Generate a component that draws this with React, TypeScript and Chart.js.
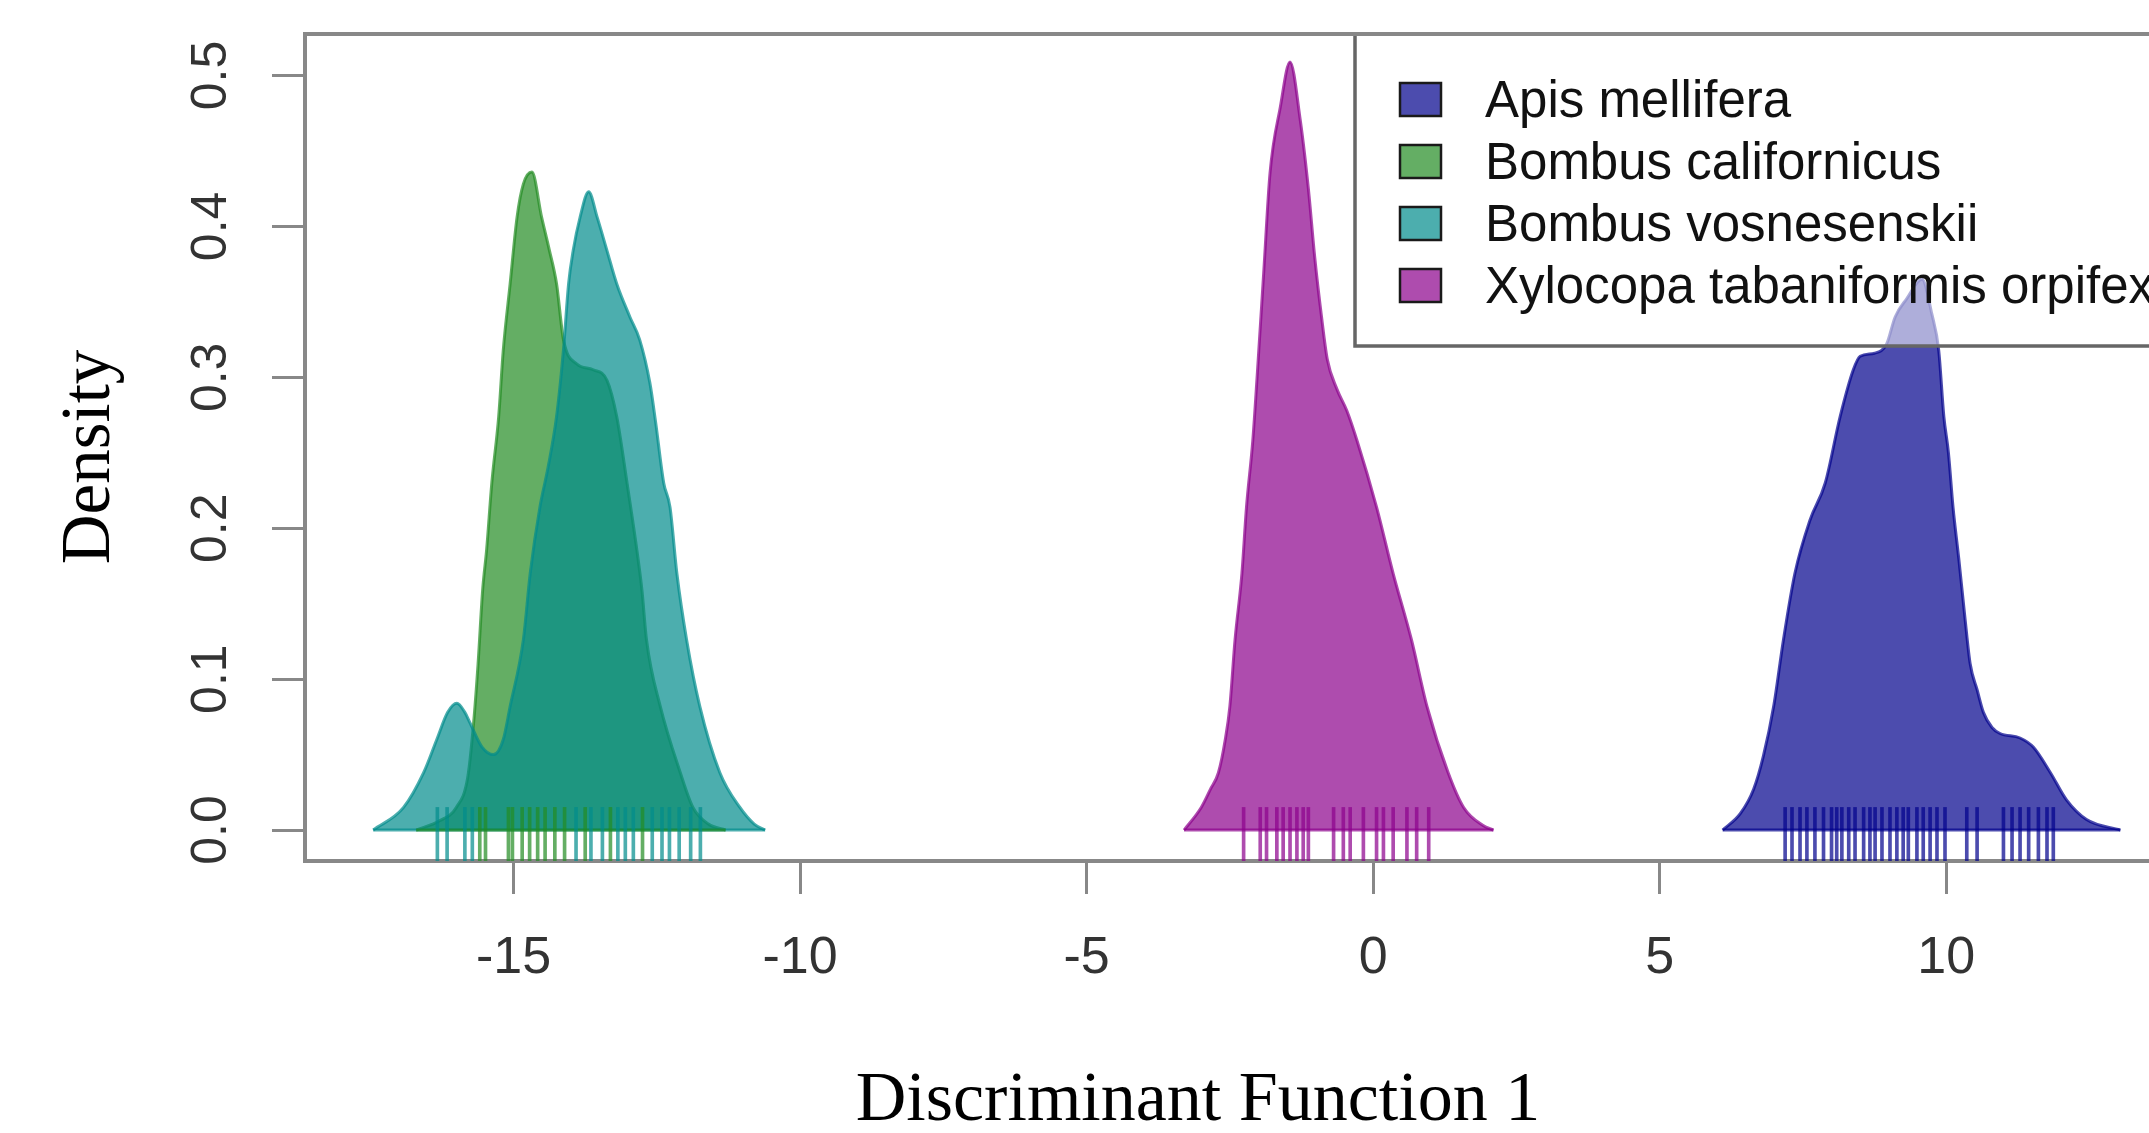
import React, { useEffect, useRef } from 'react';
import { Chart, registerables } from 'chart.js';

Chart.register(...registerables);

const W = 2149;
const H = 1133;

const SPECIES = ['Apis mellifera', 'Bombus californicus', 'Bombus vosnesenskii', 'Xylocopa tabaniformis orpifex'];
const COLORS = ['rgba(0,0,139,0.7)', 'rgba(34,139,34,0.7)', 'rgba(0,139,139,0.7)', 'rgba(139,0,139,0.7)'];

const X_TITLE = 'Discriminant Function 1';
const Y_TITLE = 'Density';
const X_TICKS = [-15, -10, -5, 0, 5, 10];
const Y_TICKS = [0, 0.1, 0.2, 0.3, 0.4, 0.5];

// Density curves
const APIS_X = [6.10, 6.41, 6.64, 6.81, 6.99, 7.16, 7.36, 7.62, 7.89, 8.15, 8.38, 8.50, 8.75, 8.96, 9.11, 9.31, 9.58, 9.75, 9.87, 9.96, 10.04, 10.12, 10.22, 10.33, 10.42, 10.54, 10.65, 10.80, 10.94, 11.29, 11.52, 11.82, 12.10, 12.45, 13.04];
const APIS_Y = [0.000, 0.011, 0.027, 0.049, 0.082, 0.126, 0.170, 0.205, 0.230, 0.274, 0.305, 0.314, 0.316, 0.322, 0.340, 0.352, 0.365, 0.342, 0.318, 0.274, 0.250, 0.214, 0.180, 0.140, 0.110, 0.093, 0.078, 0.068, 0.064, 0.061, 0.055, 0.038, 0.020, 0.007, 0.000];

const CALIF_X = [-16.70, -16.30, -16.00, -15.80, -15.70, -15.62, -15.54, -15.47, -15.38, -15.26, -15.18, -15.06, -14.94, -14.83, -14.68, -14.51, -14.38, -14.25, -14.13, -13.90, -13.61, -13.37, -13.20, -13.02, -12.85, -12.76, -12.68, -12.44, -12.09, -11.87, -11.60, -11.30];
const CALIF_Y = [0.000, 0.006, 0.015, 0.035, 0.070, 0.110, 0.159, 0.186, 0.230, 0.274, 0.318, 0.362, 0.406, 0.428, 0.436, 0.406, 0.385, 0.362, 0.325, 0.309, 0.305, 0.298, 0.274, 0.230, 0.186, 0.159, 0.126, 0.082, 0.038, 0.015, 0.004, 0.000];

const VOSN_X = [-17.45, -16.92, -16.57, -16.34, -16.15, -15.99, -15.85, -15.76, -15.55, -15.35, -15.18, -15.06, -14.83, -14.71, -14.54, -14.40, -14.25, -14.13, -14.04, -13.96, -13.84, -13.69, -13.54, -13.37, -13.20, -12.97, -12.80, -12.62, -12.52, -12.38, -12.27, -12.15, -11.98, -11.75, -11.40, -11.05, -10.80, -10.61];
const VOSN_Y = [0.000, 0.015, 0.038, 0.060, 0.078, 0.084, 0.078, 0.071, 0.055, 0.050, 0.060, 0.082, 0.126, 0.170, 0.214, 0.240, 0.274, 0.318, 0.362, 0.384, 0.406, 0.423, 0.406, 0.384, 0.362, 0.340, 0.325, 0.296, 0.270, 0.230, 0.214, 0.170, 0.126, 0.082, 0.038, 0.015, 0.004, 0.000];

const XYLO_X = [-3.30, -3.00, -2.84, -2.70, -2.58, -2.50, -2.41, -2.29, -2.21, -2.10, -2.02, -1.91, -1.80, -1.62, -1.45, -1.27, -1.13, -1.02, -0.90, -0.80, -0.63, -0.46, -0.28, 0.06, 0.35, 0.67, 0.94, 1.31, 1.58, 1.92, 2.10];
const XYLO_Y = [0.000, 0.015, 0.027, 0.038, 0.060, 0.082, 0.126, 0.170, 0.214, 0.258, 0.303, 0.369, 0.435, 0.479, 0.509, 0.470, 0.425, 0.380, 0.340, 0.312, 0.292, 0.278, 0.258, 0.214, 0.170, 0.126, 0.082, 0.038, 0.015, 0.003, 0.000];

// Rug positions
const RUG_APIS = [7.19, 7.31, 7.45, 7.57, 7.71, 7.86, 8.00, 8.09, 8.18, 8.30, 8.41, 8.56, 8.67, 8.76, 8.88, 9.02, 9.14, 9.25, 9.34, 9.49, 9.60, 9.72, 9.84, 9.98, 10.36, 10.54, 11.00, 11.15, 11.29, 11.44, 11.61, 11.76, 11.87];
const RUG_CALIF = [-15.59, -15.49, -15.09, -15.02, -14.85, -14.72, -14.58, -14.45, -14.28, -14.11, -13.75, -13.31, -12.75];
const RUG_VOSN = [-16.33, -16.16, -15.85, -15.72, -13.91, -13.65, -13.45, -13.18, -13.05, -12.91, -12.58, -12.41, -12.28, -12.11, -11.91, -11.74];
const RUG_XYLO = [-2.26, -1.97, -1.86, -1.68, -1.57, -1.45, -1.33, -1.22, -1.13, -0.69, -0.52, -0.40, -0.17, 0.06, 0.18, 0.35, 0.59, 0.76, 0.97];

const X_MIN = -18.64;
const X_MAX = 13.54;
const Y_MIN = -0.0205;
const Y_MAX = 0.5275;
const RUG_TOP = 0.015;

const toPoints = (xs: number[], ys: number[]) => xs.map((x, i) => ({ x, y: ys[i] }));

const framePlugin = {
  id: 'frameTop',
  afterDraw(chart: any) {
    const { ctx, chartArea } = chart;
    ctx.save();
    ctx.strokeStyle = '#888888';
    ctx.lineWidth = 4;
    ctx.beginPath();
    ctx.moveTo(chartArea.left - 2, chartArea.top);
    ctx.lineTo(chartArea.right + 2, chartArea.top);
    ctx.stroke();
    ctx.restore();
  },
};

const legendPlugin = {
  id: 'rLegend',
  afterDatasetsDraw(chart: any) {
    const { ctx, chartArea } = chart;
    const L = 1355;
    const T = chartArea.top;
    const B = 346;
    const R = W + 20;
    ctx.save();
    ctx.fillStyle = 'rgba(255,255,255,0.55)';
    ctx.fillRect(L, T, R - L, B - T);
    ctx.strokeStyle = '#666666';
    ctx.lineWidth = 3.5;
    ctx.strokeRect(L, T, R - L, B - T);
    SPECIES.forEach((name, i) => {
      const cy = 99.5 + i * 62;
      ctx.fillStyle = COLORS[i];
      ctx.fillRect(1400, cy - 16.5, 41, 33);
      ctx.strokeStyle = '#1a1a1a';
      ctx.lineWidth = 2.5;
      ctx.strokeRect(1400, cy - 16.5, 41, 33);
      ctx.fillStyle = '#111111';
      ctx.font = '51px "Liberation Sans"';
      ctx.textAlign = 'left';
      ctx.textBaseline = 'middle';
      ctx.fillText(name, 1485, cy + 3);
    });
    ctx.restore();
  },
};

const titlesPlugin = {
  id: 'axisTitles',
  afterDraw(chart: any) {
    const { ctx } = chart;
    ctx.save();
    ctx.fillStyle = '#000000';
    ctx.textAlign = 'center';
    ctx.textBaseline = 'alphabetic';
    ctx.font = '70px "Liberation Serif"';
    ctx.fillText(X_TITLE, 1198, 1120);
    ctx.translate(109, 457);
    ctx.rotate(-Math.PI / 2);
    ctx.font = '69px "Liberation Serif"';
    ctx.fillText(Y_TITLE, 0, 0);
    ctx.restore();
  },
};

export default function App() {
  const ref = useRef<HTMLCanvasElement>(null);

  useEffect(() => {
    const canvas = ref.current;
    if (!canvas) return;
    const series = [
      { xs: APIS_X, ys: APIS_Y, rug: RUG_APIS, order: 5 },
      { xs: CALIF_X, ys: CALIF_Y, rug: RUG_CALIF, order: 6 },
      { xs: VOSN_X, ys: VOSN_Y, rug: RUG_VOSN, order: 5 },
      { xs: XYLO_X, ys: XYLO_Y, rug: RUG_XYLO, order: 5 },
    ];
    const datasets: any[] = [];
    series.forEach((s, i) => {
      datasets.push({
        type: 'line',
        label: SPECIES[i],
        data: toPoints(s.xs, s.ys),
        fill: 'origin',
        backgroundColor: COLORS[i],
        borderColor: COLORS[i],
        borderWidth: 3,
        pointRadius: 0,
        cubicInterpolationMode: 'monotone',
        order: s.order,
      });
      datasets.push({
        type: 'line',
        label: SPECIES[i] + ' baseline',
        data: [{ x: s.xs[0], y: 0 }, { x: s.xs[s.xs.length - 1], y: 0 }],
        fill: false,
        borderColor: COLORS[i],
        borderWidth: 3,
        pointRadius: 0,
        order: 3,
      });
      datasets.push({
        type: 'bar',
        label: SPECIES[i] + ' rug',
        data: s.rug.map((x) => ({ x, y: [Y_MIN, RUG_TOP] })),
        backgroundColor: COLORS[i],
        borderWidth: 0,
        barThickness: 3,
        grouped: false,
        order: 1,
      });
    });

    const tickFont = { family: 'Liberation Sans', size: 52 };
    const chart = new Chart(canvas, {
      type: 'line',
      data: { datasets },
      options: {
        responsive: false,
        animation: false,
        events: [],
        layout: { padding: { top: 34, left: 0, right: 0, bottom: 0 } },
        plugins: { legend: { display: false }, tooltip: { enabled: false } },
        scales: {
          x: {
            type: 'linear',
            min: X_MIN,
            max: X_MAX,
            offset: false,
            afterBuildTicks: (s: any) => { s.ticks = X_TICKS.map((v) => ({ value: v })); },
            afterFit: (s: any) => { s.height = 272; s.paddingLeft = 0; s.paddingRight = 0; },
            ticks: {
              autoSkip: false,
              padding: 33,
              maxRotation: 0,
              minRotation: 0,
              font: tickFont,
              color: '#333333',
              callback: (v: any) => String(v),
            },
            grid: { offset: false, drawOnChartArea: false, drawTicks: true, tickLength: 33, color: '#888888', lineWidth: 3 },
            border: { display: true, color: '#888888', width: 4 },
          },
          y: {
            type: 'linear',
            min: Y_MIN,
            max: Y_MAX,
            offset: false,
            afterBuildTicks: (s: any) => { s.ticks = Y_TICKS.map((v) => ({ value: v })); },
            afterFit: (s: any) => { s.width = 305; s.paddingTop = 0; s.paddingBottom = 0; },
            ticks: {
              autoSkip: false,
              minRotation: 90,
              maxRotation: 90,
              crossAlign: 'center',
              padding: 25,
              font: { family: 'Liberation Sans', size: 50 },
              color: '#333333',
              callback: (v: any) => Number(v).toFixed(1),
            },
            grid: { offset: false, drawOnChartArea: false, drawTicks: true, tickLength: 33, color: '#888888', lineWidth: 3 },
            border: { display: true, color: '#888888', width: 4 },
          },
        },
      } as any,
      plugins: [legendPlugin, framePlugin, titlesPlugin],
    });
    return () => chart.destroy();
  }, []);

  return (
    <div style={{ position: 'absolute', left: 0, top: 0, width: W, height: H, overflow: 'hidden', background: '#fff' }}>
      <canvas ref={ref} width={W} height={H} style={{ display: 'block', width: W, height: H }} />
    </div>
  );
}
